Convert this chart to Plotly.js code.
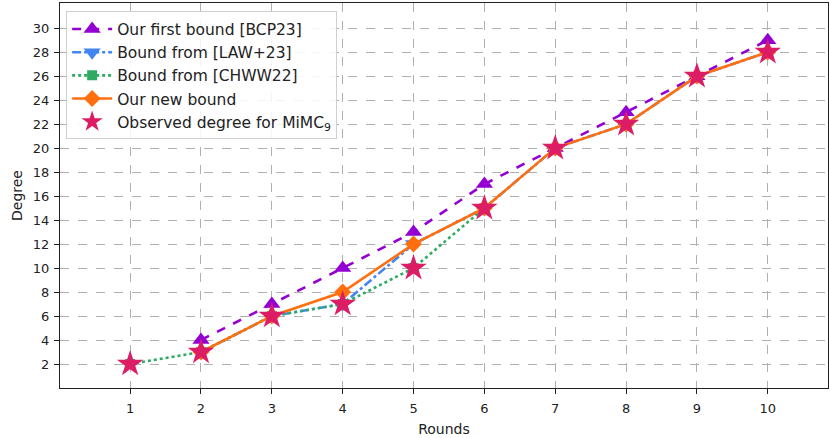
<!DOCTYPE html>
<html><head><meta charset="utf-8">
<script src="https://cdn.plot.ly/plotly-3.0.1.min.js"></script>
<style>html,body{margin:0;padding:0;background:#fff}#chart{width:830px;height:438px}</style>
</head><body><div id="chart"></div>
<script>
const rounds = [1,2,3,4,5,6,7,8,9,10];
const firstBoundX = [2,3,4,5,6,7,8,9,10];
const firstBound = [4,7,10,13,17,20,23,26,29];
const lawX = [2,3,4,5,6,7,8,9,10];
const lawBound = [3,6,7,12,15,20,22,26,28];
const chwwX = [1,2,3,4,5,6];
const chwwBound = [2,3,6,7,10,15];
const newBoundX = [2,3,4,5,6,7,8,9,10];
const newBound = [3,6,8,12,15,20,22,26,28];
const observed = [2,3,6,7,10,15,20,22,26,28];
const yTicks = [2,4,6,8,10,12,14,16,18,20,22,24,26,28,30];

const traces = [
  {x:firstBoundX, y:firstBound, name:'Our first bound [BCP23]', mode:'lines+markers', legendgroup:'a',
   line:{color:'#9400D3', width:2.6, dash:'dash'}, marker:{symbol:'triangle-up', size:15, color:'#9400D3'}},
  {x:lawX, y:lawBound, name:'Bound from [LAW+23]', mode:'lines+markers', legendgroup:'b',
   line:{color:'#4285F4', width:2.6, dash:'dashdot'}, marker:{symbol:'triangle-down', size:15, color:'#4285F4'}},
  {x:chwwX, y:chwwBound, name:'Bound from [CHWW22]', mode:'lines+markers', legendgroup:'c',
   line:{color:'#2EAA62', width:2.6, dash:'dot'}, marker:{symbol:'square', size:10, color:'#2EAA62'}},
  {x:newBoundX, y:newBound, name:'Our new bound', mode:'lines+markers', legendgroup:'d',
   line:{color:'#FF6F0E', width:2.6}, marker:{symbol:'diamond', size:13, color:'#FF6F0E'}},
  {x:rounds, y:observed, name:'Observed degree for MiMC<sub>9</sub>', mode:'markers', legendgroup:'e',
   marker:{symbol:'star', size:20, color:'#DD1C66'}}
];

const layout = {
  width:830, height:438,
  margin:{l:60, r:2, t:3, b:50},
  paper_bgcolor:'#fff', plot_bgcolor:'#fff',
  font:{family:'DejaVu Sans', size:13, color:'#222'},
  showlegend:true,
  legend:{x:0.008, y:0.978, xanchor:'left', yanchor:'top', bgcolor:'rgba(255,255,255,0.85)',
    bordercolor:'#d0d0d0', borderwidth:1, font:{size:15.5, color:'#222'},
    traceorder:'grouped', tracegroupgap:0, itemwidth:40},
  xaxis:{range:[0.01,10.85], tickvals:rounds, ticks:'outside', ticklen:5, tickcolor:'#222',
    ticklabelstandoff:3,
    showline:true, linecolor:'#222', linewidth:1.2, mirror:true, zeroline:false,
    showgrid:true, gridcolor:'#b0b0b0', griddash:'dash', gridwidth:1,
    title:{text:'Rounds', font:{size:14}, standoff:9}},
  yaxis:{range:[0,32.1], tickvals:yTicks, ticks:'outside', ticklen:5, tickcolor:'#222',
    ticklabelstandoff:2,
    showline:true, linecolor:'#222', linewidth:1.2, mirror:true, zeroline:false,
    showgrid:true, gridcolor:'#b0b0b0', griddash:'dash', gridwidth:1,
    title:{text:'Degree', font:{size:14}, standoff:6}}
};
Plotly.newPlot('chart', traces, layout, {displayModeBar:false, staticPlot:true});
</script></body></html>
